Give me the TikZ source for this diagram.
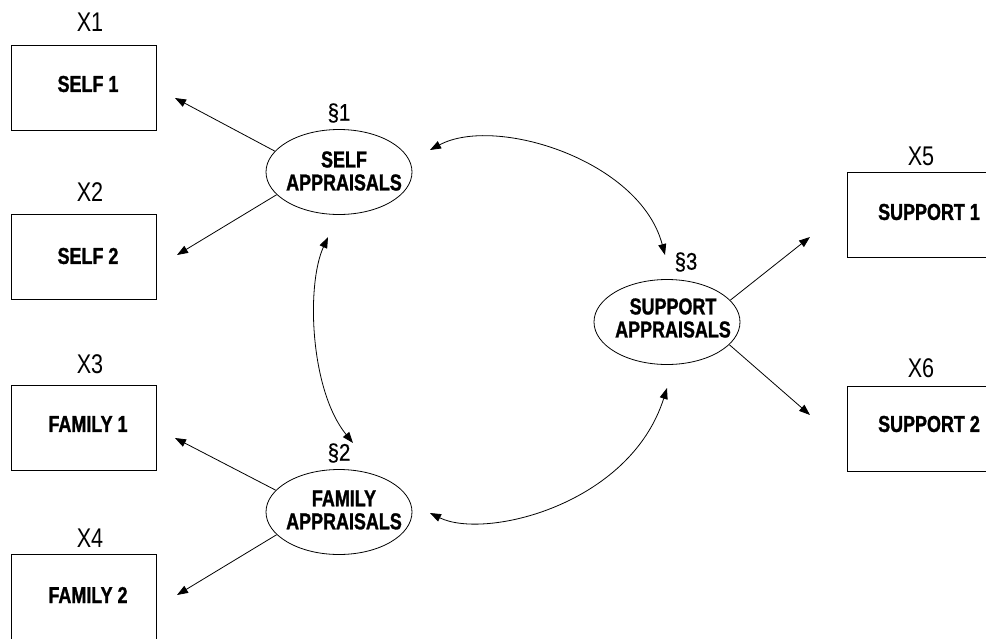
\documentclass[tikz,border=0pt]{standalone}
\usepackage{fontspec}
\usetikzlibrary{shapes.geometric,arrows.meta}
\newfontfamily\boxfont[FakeStretch=0.78,FakeBold=1.2]{Liberation Sans Bold}
\newfontfamily\labfont[FakeStretch=0.8]{Liberation Sans}
\newfontfamily\secfont[FakeStretch=0.85,FakeBold=0.6]{Liberation Sans}
\begin{document}
\begin{tikzpicture}[x=1pt,y=-1pt,
  obs/.style={draw, line width=0.9pt, minimum width=145pt, minimum height=85pt, inner sep=0pt, anchor=north west},
  latent/.style={draw, ellipse, line width=0.8pt, minimum width=146pt, minimum height=85pt, inner sep=0pt},
  btext/.style={font=\boxfont\fontsize{23}{23}\selectfont, align=center, inner sep=0pt},
  xlab/.style={font=\labfont\fontsize{27}{28}\selectfont, inner sep=0pt},
  slab/.style={font=\secfont\fontsize{24}{24}\selectfont, inner sep=0pt},
  conn/.style={line width=0.8pt, -{Triangle[length=11pt,width=8pt]}},
  dconn/.style={line width=0.8pt, {Triangle[length=11pt,width=8pt]}-{Triangle[length=11pt,width=8pt]}}
]
\useasboundingbox (0,0) rectangle (986,638);
\clip (0,0) rectangle (986,638);

% observed boxes
\node[obs] (b1) at (11,45) {};
\node[obs] (b2) at (11,214) {};
\node[obs] (b3) at (11,385) {};
\node[obs] (b4) at (11,554) {};
\node[obs] (b5) at (847,172) {};
\node[obs] (b6) at (847,386) {};

\node[btext] (tb1) at (88,84) {SELF 1};
\node[btext] (tb2) at (88,256) {SELF 2};
\node[btext] (tb3) at (88,424) {FAMILY 1};
\node[btext] (tb4) at (88,595) {FAMILY 2};
\node[btext] (tb5) at (929,212) {SUPPORT 1};
\node[btext] (tb6) at (929,424) {SUPPORT 2};

\node[xlab] (x1) at (90,22) {X1};
\node[xlab] (x2) at (90,192) {X2};
\node[xlab] (x3) at (90,364) {X3};
\node[xlab] (x4) at (90,538) {X4};
\node[xlab] (x5) at (921,156) {X5};
\node[xlab] (x6) at (921,368) {X6};

% latent ellipses
\node[latent] (sa) at (339,172) {};
\node[latent] (fa) at (339,512) {};
\node[latent] (su) at (667,322) {};
\node[btext] (tsa) at (344,171) {SELF\\APPRAISALS};
\node[btext] (tfa) at (344,510) {FAMILY\\APPRAISALS};
\node[btext] (tsu) at (673,318) {SUPPORT\\APPRAISALS};

\node[slab] (s1) at (339,113) {§1};
\node[slab] (s2) at (339,453) {§2};
\node[slab] (s3) at (686,262) {§3};

% arrow ends
\coordinate (t1) at (175,98);
\coordinate (t2) at (177,255);
\coordinate (t3) at (175,438);
\coordinate (t4) at (177,595);
\coordinate (t5) at (810,237);
\coordinate (t6) at (810,415);

\draw[conn] (sa.162) -- (t1);
\draw[conn] (sa.200) -- (t2);
\draw[conn] (fa.161) -- (t3);
\draw[conn] (fa.200) -- (t4);
\draw[conn] (su.19) -- (t5);
\draw[conn] (su.-20) -- (t6);

% covariances
\coordinate (c1a) at (430,150);
\coordinate (c1b) at (665,255);
\coordinate (c2a) at (328,237);
\coordinate (c2b) at (353,443);
\coordinate (c3a) at (430,513);
\coordinate (c3b) at (667,388);

\draw[dconn] (c1a) .. controls (495,115) and (640,160) .. (c1b);
\draw[dconn] (c2a) .. controls (306,285) and (310,390) .. (c2b);
\draw[dconn] (c3a) .. controls (485,540) and (630,505) .. (c3b);
\end{tikzpicture}
\end{document}
